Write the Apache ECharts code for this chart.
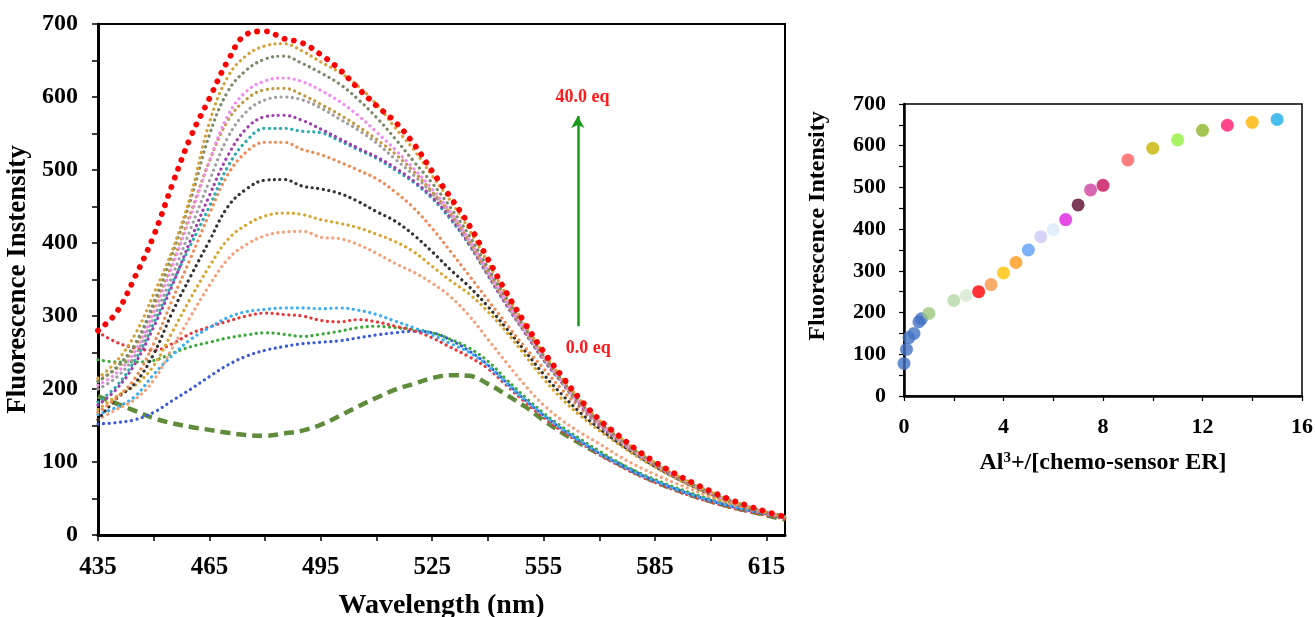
<!DOCTYPE html>
<html>
<head>
<meta charset="utf-8">
<script src="https://cdn.jsdelivr.net/npm/echarts@6/dist/echarts.min.js"></script>
<style>
html,body{margin:0;padding:0;background:#fff;}
#chart{width:1315px;height:617px;}
</style>
</head>
<body>
<div id="chart"></div>
<script>
// ---------- Data: left chart (emission spectra) ----------
const wavelength = [435,440,445,450,455,460,465,470,475,480,485,490,495,500,505,510,515,520,525,530,535,540,545,550,555,560,565,570,575,580,585,590,595,600,605,610,615,620];

const curveEq0      = [190,180,170,160,153,148,144,140,137,136,139,143,151,163,176,188,199,207,215,219,218,207,192,176,157,140,125,111,98,85,73,63,54,46,39,33,27,21];
const curveBlue     = [152,154,158,168,184,200,217,233,245,253,258,262,264,266,270,274,277,279,277,267,252,233,209,185,164,145,128,112,98,85,74,64,55,47,40,34,29,23];
const curveGreenDot = [240,237,237,239,249,258,264,270,274,277,275,272,275,279,284,286,284,282,277,268,256,238,213,189,167,148,131,115,100,87,76,66,57,49,42,35,30,24];
const curveRedSmall = [278,264,256,253,262,276,285,293,300,304,302,300,294,292,295,292,286,280,270,257,244,228,205,182,161,142,126,110,96,83,72,62,53,45,38,32,27,22];
const curveLightBlue= [165,175,190,220,246,268,284,298,306,309,311,311,310,311,308,302,293,284,274,262,250,232,208,185,164,145,128,112,98,85,74,64,55,47,40,34,29,23];
const curveSalmon   = [158,172,186,212,256,300,342,378,398,410,415,416,408,406,398,386,372,360,345,326,300,268,236,205,178,157,140,125,109,95,83,72,62,52,43,36,30,24];
const curveGoldLow  = [172,190,205,232,278,325,368,405,425,437,441,439,432,427,421,412,402,388,368,348,330,306,278,246,214,186,163,143,125,108,93,79,67,55,45,37,30,24];
const curveBlack    = [158,187,208,248,305,355,403,450,474,486,487,478,474,468,457,443,430,411,388,363,340,313,283,252,220,192,167,146,127,110,94,80,67,56,46,37,30,24];
const curveOrange   = [168,188,215,262,322,380,440,494,525,538,538,528,521,511,500,488,470,448,420,388,355,322,289,257,228,199,173,150,130,112,96,81,68,57,46,38,30,24];
const curveTeal     = [182,204,240,290,345,398,450,505,540,557,557,553,551,540,528,516,500,483,461,432,397,356,315,277,240,208,177,151,130,112,96,81,69,57,47,38,31,25];
const curvePurple   = [178,200,235,285,342,405,465,520,557,573,575,568,556,543,530,518,503,485,463,434,398,356,315,277,240,208,177,151,130,112,96,81,69,57,47,38,31,25];
const curveGray     = [200,216,246,298,355,420,485,545,580,596,600,596,585,570,555,537,515,493,468,438,400,358,317,278,242,209,178,152,131,112,96,82,69,57,47,38,31,25];
const curveOlive    = [212,228,258,312,372,442,512,568,597,610,612,603,590,576,560,542,522,498,470,440,402,360,319,280,243,210,179,153,132,113,97,82,69,58,47,38,31,25];
const curvePink     = [205,222,252,305,368,438,512,575,608,622,626,621,609,594,575,552,528,502,474,442,404,362,320,281,244,211,180,154,133,114,97,83,70,58,47,39,31,25];
const curveGreyGreen= [210,230,262,318,385,460,548,608,637,652,656,646,633,618,597,572,543,512,482,448,410,366,324,284,246,212,181,155,134,115,98,83,70,58,48,39,31,25];
const curveGoldTop  = [215,238,275,330,390,466,565,628,657,670,673,663,648,634,615,590,558,528,492,457,418,373,329,288,249,215,184,157,136,116,99,84,71,59,48,39,31,25];
const curveRed40    = [280,305,354,410,480,546,598,650,686,690,680,674,658,638,612,588,566,536,498,462,424,378,332,290,251,217,185,158,137,117,100,85,72,60,49,40,32,25];

const xLabelValues = [435,465,495,525,555,585,615];
const xTickValues  = [435,450,465,480,495,510,525,540,555,570,585,600,615];

// ---------- Data: right chart (titration) ----------
const ratio     = [0,0.1,0.2,0.4,0.6,0.7,1,2,2.5,3,3.5,4,4.5,5,5.5,6,6.5,7,7.5,8,9,10,11,12,13,14,15];
const intensity = [78,112,140,150,178,185,198,229,241,250,267,295,320,350,382,399,423,458,494,505,566,594,614,637,649,656,663];
const pointColors = ['#4472C4','#4472C4','#4472C4','#4472C4','#4472C4','#4472C4','#9DC77F','#B7D7AA','#D6E9CF','#FF0000','#F79646','#FFC000','#FF9A1A','#5B9CF5','#C9C9F7','#D9EBFC','#E01EE0','#5C0A30','#D040A0','#C8105A','#FF5C5C','#C8B400','#92F03C','#8DB52A','#FF1A6E','#FFB300','#1AADEA'];

// ---------- Build ----------
const FONT = '"Liberation Serif", "Times New Roman", serif';
function pairs(arr){ return wavelength.map((w,i)=>[w, arr[i]]); }

function dotted(name, arr, color, width, gap){
  return {
    name, type:'line', xAxisIndex:0, yAxisIndex:0, data:pairs(arr),
    smooth:0.4, symbol:'none', silent:true,
    lineStyle:{color, width, type:[0.1, gap], cap:'round'}
  };
}

const leftSeries = [
  {
    name:'0.0 eq', type:'line', xAxisIndex:0, yAxisIndex:0, data:pairs(curveEq0),
    smooth:0.4, symbol:'none', silent:true,
    lineStyle:{color:'#5E8C3A', width:4.5, type:[10,6], cap:'butt'}
  },
  dotted('b', curveBlue, '#3A5BD9', 3.2, 5.5),
  dotted('g', curveGreenDot, '#3AAA3A', 3.2, 5.5),
  dotted('r', curveRedSmall, '#E8383A', 3.2, 5.5),
  dotted('lb', curveLightBlue, '#3AAEF0', 3.2, 5.5),
  dotted('s', curveSalmon, '#F4A27A', 3.2, 5.5),
  dotted('gl', curveGoldLow, '#D9A730', 3.2, 5.5),
  dotted('k', curveBlack, '#333333', 3.2, 5.5),
  dotted('o', curveOrange, '#ED8B55', 3.2, 5.5),
  dotted('t', curveTeal, '#2AACB0', 3.2, 5.5),
  dotted('p', curvePurple, '#A040B0', 3.2, 5.5),
  dotted('gy', curveGray, '#A0A0A0', 3.2, 5.5),
  dotted('ol', curveOlive, '#C39A45', 3.2, 5.5),
  dotted('pk', curvePink, '#F28CF2', 3.2, 5.5),
  dotted('gg', curveGreyGreen, '#7A8B6A', 3.2, 5.5),
  dotted('gt', curveGoldTop, '#D4A237', 3.2, 5.5),
  {
    name:'40.0 eq', type:'line', xAxisIndex:0, yAxisIndex:0, data:pairs(curveRed40),
    smooth:0.4, symbol:'none', silent:true,
    lineStyle:{color:'#FF0000', width:5.8, type:[0.1, 9.5], cap:'round'},
    markLine:{
      silent:true, animation:false,
      symbol:['none','arrow'], symbolSize:[10,12],
      lineStyle:{color:'#1A9A1A', width:2.5, type:'solid'},
      label:{show:false},
      data:[[{coord:[564.2,286]},{coord:[564.2,574]}]]
    },
    markPoint:{
      silent:true, animation:false,
      symbol:'circle', symbolSize:0,
      label:{show:true, color:'#FF1A1A', fontFamily:FONT, fontWeight:'bold', fontSize:18, formatter:p=>p.name},
      data:[
        {name:'40.0 eq', coord:[565.5,600]},
        {name:'0.0 eq', coord:[567,256]}
      ]
    }
  }
];

const scatterData = ratio.map((x,i)=>({value:[x,intensity[i]], itemStyle:{color:pointColors[i]}}));

const axisText = {color:'#000', fontFamily:FONT, fontWeight:'bold'};

const option = {
  animation:false,
  backgroundColor:'#fff',
  grid:[
    {left:98, top:24, width:687, height:511, show:true, borderColor:'#000', borderWidth:2, backgroundColor:'transparent', containLabel:false, outerBoundsMode:'none'},
    {left:904, top:104, width:398, height:292, show:true, borderColor:'#000', borderWidth:1.5, backgroundColor:'transparent', containLabel:false, outerBoundsMode:'none'}
  ],
  xAxis:[
    {
      gridIndex:0, type:'value', min:435, max:620,
      name:'Wavelength (nm)', nameLocation:'middle', nameGap:57,
      nameTextStyle:Object.assign({fontSize:28}, axisText),
      axisLine:{show:true, lineStyle:{color:'#000', width:3}},
      axisTick:{show:true, inside:false, length:6, lineStyle:{color:'#000', width:1.5}, customValues:xTickValues},
      axisLabel:Object.assign({fontSize:25, margin:20, customValues:xLabelValues}, axisText),
      splitLine:{show:false}
    },
    {
      gridIndex:1, type:'value', min:0, max:16, interval:4,
      name:'{a|Al}{s|3}{a|+/[chemo-sensor ER]}', nameLocation:'middle', nameGap:55,
      nameTextStyle:{rich:{
        a:{fontSize:24, fontFamily:FONT, fontWeight:'bold', color:'#000'},
        s:{fontSize:15, fontFamily:FONT, fontWeight:'bold', color:'#000', verticalAlign:'top', padding:[0,0,8,0]}
      }},
      axisLine:{show:true, lineStyle:{color:'#000', width:2.5}},
      axisTick:{show:true, inside:false, length:5, lineStyle:{color:'#000', width:1.2}},
      minorTick:{show:true, splitNumber:2, length:5, lineStyle:{color:'#000', width:1.2}},
      axisLabel:Object.assign({fontSize:22, margin:20}, axisText),
      splitLine:{show:false}, minorSplitLine:{show:false}
    }
  ],
  yAxis:[
    {
      gridIndex:0, type:'value', min:0, max:700, interval:100,
      name:'Fluorescence Instensity', nameLocation:'middle', nameGap:63, nameRotate:90,
      nameTextStyle:Object.assign({fontSize:27}, axisText),
      axisLine:{show:true, lineStyle:{color:'#000', width:3}},
      axisTick:{show:true, inside:false, length:6, lineStyle:{color:'#000', width:1.5}},
      minorTick:{show:true, splitNumber:2, length:6, lineStyle:{color:'#000', width:1.5}},
      axisLabel:Object.assign({fontSize:24, margin:20}, axisText),
      splitLine:{show:false}, minorSplitLine:{show:false}
    },
    {
      gridIndex:1, type:'value', min:0, max:700, interval:100,
      name:'Fluorescence Intensity', nameLocation:'middle', nameGap:74, nameRotate:90,
      nameTextStyle:Object.assign({fontSize:24, padding:[0,0,0,48]}, axisText),
      axisLine:{show:true, lineStyle:{color:'#000', width:2.5}},
      axisTick:{show:true, inside:false, length:5, lineStyle:{color:'#000', width:1.2}},
      minorTick:{show:true, splitNumber:2, length:5, lineStyle:{color:'#000', width:1.2}},
      axisLabel:Object.assign({fontSize:22, margin:18}, axisText),
      splitLine:{show:false}, minorSplitLine:{show:false}
    }
  ],
  series: leftSeries.concat([
    {
      type:'scatter', xAxisIndex:1, yAxisIndex:1, data:scatterData,
      symbol:'circle', symbolSize:13, silent:true
    }
  ])
};

const chart = echarts.init(document.getElementById('chart'), null, {renderer:'canvas'});
chart.setOption(option);
</script>
</body>
</html>
